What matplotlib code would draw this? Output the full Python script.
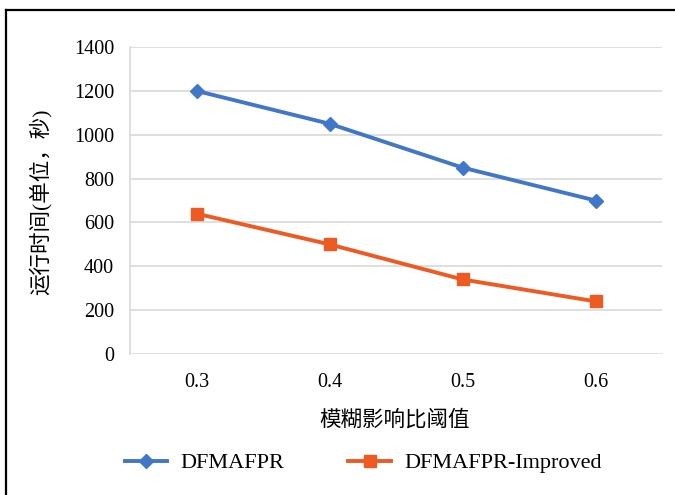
import matplotlib
matplotlib.use("Agg")
import matplotlib.pyplot as plt
from matplotlib.lines import Line2D

categories = ["0.3", "0.4", "0.5", "0.6"]
series_a = [1200, 1050, 850, 700]
series_b = [640, 500, 340, 240]
name_a = "DFMAFPR"
name_b = "DFMAFPR-Improved"
yticks = [0, 200, 400, 600, 800, 1000, 1200, 1400]

fam = ["Liberation Serif", "Noto Sans CJK SC"]
plt.rcParams["font.family"] = fam

W, H = 675, 495
fig = plt.figure(figsize=(W / 100, H / 100), dpi=100)
ax = fig.add_axes([130 / W, 1 - 354 / H, (662 - 130) / W, (354 - 47) / H])

x = list(range(len(categories)))
blue = "#4077C8"
orange = "#EE5A22"
ax.plot(x, series_a, color=blue, lw=2.8, marker="D", ms=7.5, label=name_a)
ax.plot(x, series_b, color=orange, lw=2.8, marker="s", ms=8.5, label=name_b)

ax.set_xlim(-0.5, len(categories) - 0.5)
ax.set_ylim(0, 1400)
ax.set_yticks(yticks)
ax.set_xticks(x)
ax.set_xticklabels(categories)
ax.grid(axis="y", color="#d9d9d9", lw=1.2)
ax.set_axisbelow(True)
for s in ["top", "right", "bottom"]:
    ax.spines[s].set_visible(False)
ax.spines["left"].set_color("#d9d9d9")
ax.spines["left"].set_linewidth(1.2)
ax.tick_params(length=0, labelsize=14.5)
ax.tick_params(axis="y", pad=11.5)
ax.tick_params(axis="x", pad=14)

fig.text(395 / W, 1 - 420 / H, "模糊影响比阈值", ha="center", va="center", fontsize=15.5, family=fam)
fig.text(40 / W, 1 - 202 / H, "运行时间(单位，秒)", ha="center", va="center", rotation=90, fontsize=15.5, family=fam)

leg = fig.legend(loc="center", bbox_to_anchor=(363 / W, 1 - 463 / H), ncol=2, frameon=False,
                 fontsize=16, handlelength=1.9, columnspacing=2.9, handletextpad=0.6)

# outer frame (left and top)
fig.add_artist(Line2D([6 / W, 6 / W], [0, 1 - 10 / H], color="black", lw=1.6, transform=fig.transFigure))
fig.add_artist(Line2D([6 / W, 1], [1 - 10 / H, 1 - 10 / H], color="black", lw=1.6, transform=fig.transFigure))

fig.savefig("out.png", dpi=100)
